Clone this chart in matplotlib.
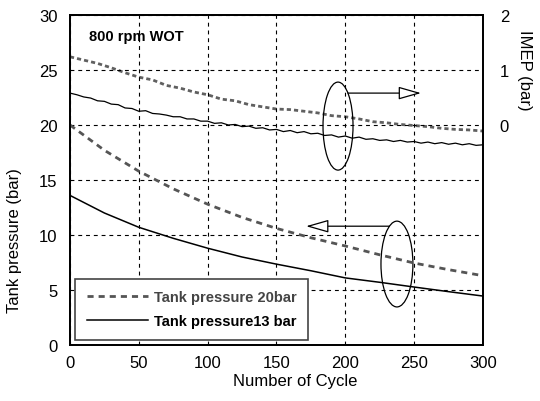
import numpy as np
import matplotlib
matplotlib.use("Agg")
import matplotlib.pyplot as plt
from matplotlib.patches import Ellipse

plt.rcParams['font.family'] = ['Liberation Sans', 'DejaVu Sans']

# tank pressure (left axis, bar)
cyc_tank = [0, 25, 50, 75, 100, 125, 150, 175, 200, 225, 250, 275, 300]
tank20 = [20.0, 17.7, 15.8, 14.2, 12.8, 11.6, 10.6, 9.75, 9.0, 8.2, 7.45, 6.85, 6.3]
tank13 = [13.6, 12.0, 10.7, 9.7, 8.8, 8.0, 7.35, 6.75, 6.1, 5.7, 5.27, 4.85, 4.45]

# IMEP (right axis, bar)
cyc_imep20 = list(range(0, 301, 10))
imep20 = [1.24, 1.18, 1.12, 1.04, 0.95, 0.87, 0.82, 0.72, 0.67, 0.60, 0.55,
          0.47, 0.44, 0.37, 0.33, 0.29, 0.28, 0.25, 0.22, 0.17, 0.15,
          0.11, 0.06, 0.04, 0.01, -0.01, -0.03, -0.06, -0.08, -0.09, -0.11]
cyc_imep13 = list(range(0, 301, 5))
imep13 = [0.58, 0.55, 0.51, 0.49, 0.44, 0.43, 0.38, 0.37, 0.31, 0.30,
          0.25, 0.26, 0.21, 0.20, 0.18, 0.15, 0.15, 0.11, 0.11, 0.07,
          0.07, 0.03, 0.04, 0.00, 0.01, -0.03, -0.02, -0.06, -0.05, -0.09,
          -0.08, -0.12, -0.10, -0.14, -0.12, -0.16, -0.15, -0.19, -0.18, -0.22,
          -0.20, -0.24, -0.22, -0.26, -0.25, -0.28, -0.27, -0.30, -0.28, -0.31,
          -0.30, -0.33, -0.31, -0.34, -0.32, -0.35, -0.33, -0.36, -0.34, -0.37,
          -0.36]

xticks = [0, 50, 100, 150, 200, 250, 300]
yticks_left = [0, 5, 10, 15, 20, 25, 30]
yticks_right = [0, 1, 2]

fig = plt.figure(figsize=(5.4, 4.02), dpi=100)
ax = fig.add_axes([0.1296, 0.1393, 0.7648, 0.8209])
ax2 = ax.twinx()
ax.set_zorder(ax2.get_zorder() + 1)
ax.patch.set_visible(False)

gray = '#555555'
l20, = ax.plot(cyc_tank, tank20, color=gray, lw=2, dashes=(2.2, 1.8))
l13, = ax.plot(cyc_tank, tank13, color='black', lw=1.1)
ax2.plot(cyc_imep20, imep20, color='#606060', lw=2, dashes=(1.5, 1.1))
ax2.plot(cyc_imep13, imep13, color='black', lw=0.9)

ax.set_xlim(0, 300)
ax.set_ylim(0, 30)
ax2.set_ylim(-4, 2)
ax.set_xticks(xticks)
ax.set_yticks(yticks_left)
ax2.set_yticks(yticks_right)
ax.grid(True, color='black', lw=0.8, linestyle=(0, (3.5, 3.5)))
ax.tick_params(labelsize=12, length=0, pad=9)
ax.tick_params(axis='x', pad=7)
ax2.tick_params(labelsize=12, length=0, pad=12)
for a in (ax, ax2):
    for s in a.spines.values():
        s.set_linewidth(1.3)

ax.set_xlabel('Number of Cycle', fontsize=12)
ax.xaxis.set_label_coords(0.545, -0.085)
ax.set_ylabel('Tank pressure (bar)', fontsize=12)
ax.yaxis.set_label_coords(-0.115, 0.32)
ax2.set_ylabel('IMEP (bar)', fontsize=12, rotation=270, va='center')
ax2.yaxis.set_label_coords(1.1, 0.836)

ax.text(14, 28.1, '800 rpm WOT', fontsize=10.5, fontweight='bold', va='center')

# ellipses and arrows
ax.add_patch(Ellipse((194.7, 19.9), 21.8, 8.0, fill=False, ec='black', lw=0.9))
ax.add_patch(Ellipse((237.5, 7.36), 23.2, 7.8, fill=False, ec='black', lw=0.9))
arrow = dict(arrowstyle='-|>,head_length=1.4,head_width=0.4', fc='white',
             ec='black', lw=0.9, mutation_scale=10, shrinkA=0, shrinkB=0)
ax.annotate('', xy=(255, 22.9), xytext=(201.9, 22.9), arrowprops=arrow)
ax.annotate('', xy=(171.5, 10.8), xytext=(232.1, 10.8), arrowprops=arrow)

leg = ax.legend([l20, l13], ['Tank pressure 20bar', 'Tank pressure13 bar'],
                loc='lower left', bbox_to_anchor=(0.012, 0.015), borderaxespad=0,
                fancybox=False, framealpha=1, edgecolor='#444444',
                prop={'weight': 'bold', 'size': 10.5}, handlelength=4.2,
                handletextpad=0.4, labelspacing=0.7, borderpad=0.8)
leg.get_frame().set_linewidth(1.2)
leg.get_texts()[0].set_color('#444444')

fig.savefig('out.png', dpi=100)
